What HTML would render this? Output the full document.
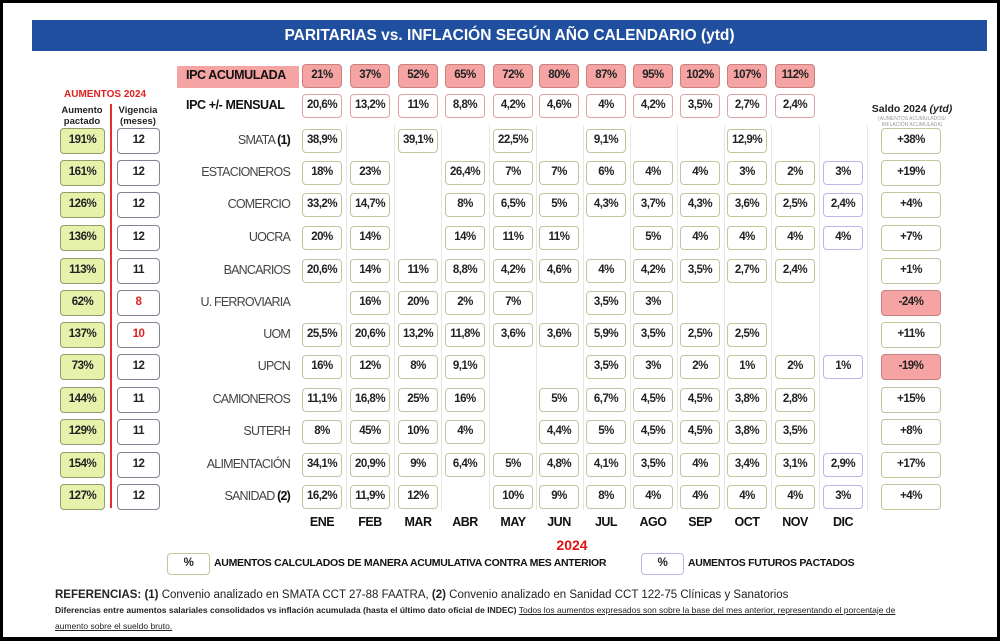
<!DOCTYPE html>
<html><head><meta charset="utf-8"><style>
*{margin:0;padding:0;box-sizing:border-box}
body{width:1000px;height:641px;background:#000;position:relative;overflow:hidden;font-family:"Liberation Sans",sans-serif}
#pg{position:absolute;left:3px;top:3px;width:994px;height:634px;background:#fff}
.a{position:absolute}
.c{position:absolute;width:40px;height:24px;border:1.5px solid #b9c99c;border-radius:4px;background:#fff;font-weight:bold;font-size:11.5px;letter-spacing:-0.5px;color:#222;text-align:center;line-height:21px}
.p{border-color:#bdb5e6}
.r{background:#f5a3a3;border-color:#c98080}
.m{border-color:#dca4a4}
.ag{width:45px;height:26px;line-height:23px;background:#e6f1ab;border-color:#8f9e6a}
.vg{width:43px;height:26px;line-height:23px;border-color:#7d8592}
.sd{width:60px;height:26px;line-height:23px}
.lb{position:absolute;right:710px;font-size:12.5px;letter-spacing:-0.8px;color:#444;width:180px;text-align:right}
.mo{position:absolute;width:40px;text-align:center;font-weight:bold;font-size:12.5px;letter-spacing:-0.5px;color:#111;top:515px}
.vl{position:absolute;width:1px;background:#e6e6e6;top:125px;height:385px}
</style></head><body><div id="pg"></div>
<div class="a" style="left:32px;top:20px;width:955px;height:31px;background:#1f4f9e;color:#fff;font-weight:bold;font-size:15.5px;text-align:center;line-height:31px">PARITARIAS vs. INFLACIÓN SEGÚN AÑO CALENDARIO (ytd)</div>

<div class="a" style="left:177px;top:66px;width:122px;height:22px;background:#f5a3a3"></div>
<div class="a" style="left:186px;top:68px;font-weight:bold;font-size:12.5px;letter-spacing:-0.4px;color:#111">IPC ACUMULADA</div>
<div class="a" style="left:186px;top:98px;font-weight:bold;font-size:12.5px;letter-spacing:-0.4px;color:#111">IPC +/- MENSUAL</div>
<div class="a" style="left:64px;top:89px;font-weight:bold;font-size:10px;color:#e02020">AUMENTOS 2024</div>
<div class="a" style="left:58px;top:105px;width:48px;text-align:center;font-weight:bold;font-size:9.5px;line-height:11px;color:#222">Aumento pactado</div>
<div class="a" style="left:114px;top:105px;width:48px;text-align:center;font-weight:bold;font-size:9.5px;line-height:11px;color:#222">Vigencia (meses)</div>
<div class="a" style="left:110px;top:104px;width:1.5px;height:404px;background:#e03030"></div>
<div class="a" style="left:862px;top:103px;width:100px;text-align:center;font-weight:bold;font-size:10.5px;color:#222">Saldo 2024 <i>(ytd)</i></div>
<div class="a" style="left:862px;top:116px;width:100px;text-align:center;font-size:5px;line-height:6px;color:#999">(AUMENTOS ACUMULADOS/<br>INFLACIÓN ACUMULADA)</div>

<div class="vl" style="left:346px"></div><div class="vl" style="left:394px"></div><div class="vl" style="left:441px"></div><div class="vl" style="left:489px"></div><div class="vl" style="left:536px"></div><div class="vl" style="left:583px"></div><div class="vl" style="left:630px"></div><div class="vl" style="left:677px"></div><div class="vl" style="left:724px"></div><div class="vl" style="left:771px"></div><div class="vl" style="left:819px"></div><div class="vl" style="left:867px"></div>

<div class="c r" style="left:302px;top:64px">21%</div><div class="c r" style="left:350px;top:64px">37%</div><div class="c r" style="left:398px;top:64px">52%</div><div class="c r" style="left:445px;top:64px">65%</div><div class="c r" style="left:493px;top:64px">72%</div><div class="c r" style="left:539px;top:64px">80%</div><div class="c r" style="left:586px;top:64px">87%</div><div class="c r" style="left:633px;top:64px">95%</div><div class="c r" style="left:680px;top:64px">102%</div><div class="c r" style="left:727px;top:64px">107%</div><div class="c r" style="left:775px;top:64px">112%</div>
<div class="c m" style="left:302px;top:94px">20,6%</div><div class="c m" style="left:350px;top:94px">13,2%</div><div class="c m" style="left:398px;top:94px">11%</div><div class="c m" style="left:445px;top:94px">8,8%</div><div class="c m" style="left:493px;top:94px">4,2%</div><div class="c m" style="left:539px;top:94px">4,6%</div><div class="c m" style="left:586px;top:94px">4%</div><div class="c m" style="left:633px;top:94px">4,2%</div><div class="c m" style="left:680px;top:94px">3,5%</div><div class="c m" style="left:727px;top:94px">2,7%</div><div class="c m" style="left:775px;top:94px">2,4%</div>

<div class="lb" style="top:133px">SMATA <b style="color:#111">(1)</b></div>
<div class="c ag" style="left:60px;top:128px">191%</div><div class="c vg" style="left:117px;top:128px">12</div>
<div class="c" style="left:302px;top:129px">38,9%</div><div class="c" style="left:398px;top:129px">39,1%</div><div class="c" style="left:493px;top:129px">22,5%</div><div class="c" style="left:586px;top:129px">9,1%</div><div class="c" style="left:727px;top:129px">12,9%</div>
<div class="c sd" style="left:881px;top:128px">+38%</div>

<div class="lb" style="top:165px">ESTACIONEROS</div>
<div class="c ag" style="left:60px;top:160px">161%</div><div class="c vg" style="left:117px;top:160px">12</div>
<div class="c" style="left:302px;top:161px">18%</div><div class="c" style="left:350px;top:161px">23%</div><div class="c" style="left:445px;top:161px">26,4%</div><div class="c" style="left:493px;top:161px">7%</div><div class="c" style="left:539px;top:161px">7%</div><div class="c" style="left:586px;top:161px">6%</div><div class="c" style="left:633px;top:161px">4%</div><div class="c" style="left:680px;top:161px">4%</div><div class="c" style="left:727px;top:161px">3%</div><div class="c" style="left:775px;top:161px">2%</div><div class="c p" style="left:823px;top:161px">3%</div>
<div class="c sd" style="left:881px;top:160px">+19%</div>

<div class="lb" style="top:197px">COMERCIO</div>
<div class="c ag" style="left:60px;top:192px">126%</div><div class="c vg" style="left:117px;top:192px">12</div>
<div class="c" style="left:302px;top:193px">33,2%</div><div class="c" style="left:350px;top:193px">14,7%</div><div class="c" style="left:445px;top:193px">8%</div><div class="c" style="left:493px;top:193px">6,5%</div><div class="c" style="left:539px;top:193px">5%</div><div class="c" style="left:586px;top:193px">4,3%</div><div class="c" style="left:633px;top:193px">3,7%</div><div class="c" style="left:680px;top:193px">4,3%</div><div class="c" style="left:727px;top:193px">3,6%</div><div class="c" style="left:775px;top:193px">2,5%</div><div class="c p" style="left:823px;top:193px">2,4%</div>
<div class="c sd" style="left:881px;top:192px">+4%</div>

<div class="lb" style="top:230px">UOCRA</div>
<div class="c ag" style="left:60px;top:225px">136%</div><div class="c vg" style="left:117px;top:225px">12</div>
<div class="c" style="left:302px;top:226px">20%</div><div class="c" style="left:350px;top:226px">14%</div><div class="c" style="left:445px;top:226px">14%</div><div class="c" style="left:493px;top:226px">11%</div><div class="c" style="left:539px;top:226px">11%</div><div class="c" style="left:633px;top:226px">5%</div><div class="c" style="left:680px;top:226px">4%</div><div class="c" style="left:727px;top:226px">4%</div><div class="c" style="left:775px;top:226px">4%</div><div class="c p" style="left:823px;top:226px">4%</div>
<div class="c sd" style="left:881px;top:225px">+7%</div>

<div class="lb" style="top:263px">BANCARIOS</div>
<div class="c ag" style="left:60px;top:258px">113%</div><div class="c vg" style="left:117px;top:258px">11</div>
<div class="c" style="left:302px;top:259px">20,6%</div><div class="c" style="left:350px;top:259px">14%</div><div class="c" style="left:398px;top:259px">11%</div><div class="c" style="left:445px;top:259px">8,8%</div><div class="c" style="left:493px;top:259px">4,2%</div><div class="c" style="left:539px;top:259px">4,6%</div><div class="c" style="left:586px;top:259px">4%</div><div class="c" style="left:633px;top:259px">4,2%</div><div class="c" style="left:680px;top:259px">3,5%</div><div class="c" style="left:727px;top:259px">2,7%</div><div class="c" style="left:775px;top:259px">2,4%</div>
<div class="c sd" style="left:881px;top:258px">+1%</div>

<div class="lb" style="top:295px">U. FERROVIARIA</div>
<div class="c ag" style="left:60px;top:290px">62%</div><div class="c vg" style="left:117px;top:290px;color:#e02020">8</div>
<div class="c" style="left:350px;top:291px">16%</div><div class="c" style="left:398px;top:291px">20%</div><div class="c" style="left:445px;top:291px">2%</div><div class="c" style="left:493px;top:291px">7%</div><div class="c" style="left:586px;top:291px">3,5%</div><div class="c" style="left:633px;top:291px">3%</div>
<div class="c sd r" style="left:881px;top:290px">-24%</div>

<div class="lb" style="top:327px">UOM</div>
<div class="c ag" style="left:60px;top:322px">137%</div><div class="c vg" style="left:117px;top:322px;color:#e02020">10</div>
<div class="c" style="left:302px;top:323px">25,5%</div><div class="c" style="left:350px;top:323px">20,6%</div><div class="c" style="left:398px;top:323px">13,2%</div><div class="c" style="left:445px;top:323px">11,8%</div><div class="c" style="left:493px;top:323px">3,6%</div><div class="c" style="left:539px;top:323px">3,6%</div><div class="c" style="left:586px;top:323px">5,9%</div><div class="c" style="left:633px;top:323px">3,5%</div><div class="c" style="left:680px;top:323px">2,5%</div><div class="c" style="left:727px;top:323px">2,5%</div>
<div class="c sd" style="left:881px;top:322px">+11%</div>

<div class="lb" style="top:359px">UPCN</div>
<div class="c ag" style="left:60px;top:354px">73%</div><div class="c vg" style="left:117px;top:354px">12</div>
<div class="c" style="left:302px;top:355px">16%</div><div class="c" style="left:350px;top:355px">12%</div><div class="c" style="left:398px;top:355px">8%</div><div class="c" style="left:445px;top:355px">9,1%</div><div class="c" style="left:586px;top:355px">3,5%</div><div class="c" style="left:633px;top:355px">3%</div><div class="c" style="left:680px;top:355px">2%</div><div class="c" style="left:727px;top:355px">1%</div><div class="c" style="left:775px;top:355px">2%</div><div class="c p" style="left:823px;top:355px">1%</div>
<div class="c sd r" style="left:881px;top:354px">-19%</div>

<div class="lb" style="top:392px">CAMIONEROS</div>
<div class="c ag" style="left:60px;top:387px">144%</div><div class="c vg" style="left:117px;top:387px">11</div>
<div class="c" style="left:302px;top:388px">11,1%</div><div class="c" style="left:350px;top:388px">16,8%</div><div class="c" style="left:398px;top:388px">25%</div><div class="c" style="left:445px;top:388px">16%</div><div class="c" style="left:539px;top:388px">5%</div><div class="c" style="left:586px;top:388px">6,7%</div><div class="c" style="left:633px;top:388px">4,5%</div><div class="c" style="left:680px;top:388px">4,5%</div><div class="c" style="left:727px;top:388px">3,8%</div><div class="c" style="left:775px;top:388px">2,8%</div>
<div class="c sd" style="left:881px;top:387px">+15%</div>

<div class="lb" style="top:424px">SUTERH</div>
<div class="c ag" style="left:60px;top:419px">129%</div><div class="c vg" style="left:117px;top:419px">11</div>
<div class="c" style="left:302px;top:420px">8%</div><div class="c" style="left:350px;top:420px">45%</div><div class="c" style="left:398px;top:420px">10%</div><div class="c" style="left:445px;top:420px">4%</div><div class="c" style="left:539px;top:420px">4,4%</div><div class="c" style="left:586px;top:420px">5%</div><div class="c" style="left:633px;top:420px">4,5%</div><div class="c" style="left:680px;top:420px">4,5%</div><div class="c" style="left:727px;top:420px">3,8%</div><div class="c" style="left:775px;top:420px">3,5%</div>
<div class="c sd" style="left:881px;top:419px">+8%</div>

<div class="lb" style="top:457px">ALIMENTACIÓN</div>
<div class="c ag" style="left:60px;top:452px">154%</div><div class="c vg" style="left:117px;top:452px">12</div>
<div class="c" style="left:302px;top:453px">34,1%</div><div class="c" style="left:350px;top:453px">20,9%</div><div class="c" style="left:398px;top:453px">9%</div><div class="c" style="left:445px;top:453px">6,4%</div><div class="c" style="left:493px;top:453px">5%</div><div class="c" style="left:539px;top:453px">4,8%</div><div class="c" style="left:586px;top:453px">4,1%</div><div class="c" style="left:633px;top:453px">3,5%</div><div class="c" style="left:680px;top:453px">4%</div><div class="c" style="left:727px;top:453px">3,4%</div><div class="c" style="left:775px;top:453px">3,1%</div><div class="c p" style="left:823px;top:453px">2,9%</div>
<div class="c sd" style="left:881px;top:452px">+17%</div>

<div class="lb" style="top:489px">SANIDAD <b style="color:#111">(2)</b></div>
<div class="c ag" style="left:60px;top:484px">127%</div><div class="c vg" style="left:117px;top:484px">12</div>
<div class="c" style="left:302px;top:485px">16,2%</div><div class="c" style="left:350px;top:485px">11,9%</div><div class="c" style="left:398px;top:485px">12%</div><div class="c" style="left:493px;top:485px">10%</div><div class="c" style="left:539px;top:485px">9%</div><div class="c" style="left:586px;top:485px">8%</div><div class="c" style="left:633px;top:485px">4%</div><div class="c" style="left:680px;top:485px">4%</div><div class="c" style="left:727px;top:485px">4%</div><div class="c" style="left:775px;top:485px">4%</div><div class="c p" style="left:823px;top:485px">3%</div>
<div class="c sd" style="left:881px;top:484px">+4%</div>

<div class="mo" style="left:302px">ENE</div><div class="mo" style="left:350px">FEB</div><div class="mo" style="left:398px">MAR</div><div class="mo" style="left:445px">ABR</div><div class="mo" style="left:493px">MAY</div><div class="mo" style="left:539px">JUN</div><div class="mo" style="left:586px">JUL</div><div class="mo" style="left:633px">AGO</div><div class="mo" style="left:680px">SEP</div><div class="mo" style="left:727px">OCT</div><div class="mo" style="left:775px">NOV</div><div class="mo" style="left:823px">DIC</div>

<div class="a" style="left:552px;top:537px;width:40px;text-align:center;font-weight:bold;font-size:14px;color:#e01010">2024</div>
<div class="c" style="left:167px;top:553px;width:43px;height:22px;line-height:19px">%</div>
<div class="a" style="left:214px;top:557px;font-weight:bold;font-size:10.5px;letter-spacing:-0.3px;color:#111;white-space:nowrap">AUMENTOS CALCULADOS DE MANERA ACUMULATIVA CONTRA MES ANTERIOR</div>
<div class="c p" style="left:641px;top:553px;width:43px;height:22px;line-height:19px">%</div>
<div class="a" style="left:688px;top:557px;font-weight:bold;font-size:10.5px;letter-spacing:-0.3px;color:#111;white-space:nowrap">AUMENTOS FUTUROS PACTADOS</div>

<div class="a" style="left:55px;top:589px;font-size:11.5px;color:#222;white-space:nowrap"><b>REFERENCIAS: (1)</b> Convenio analizado en SMATA CCT 27-88 FAATRA, <b>(2)</b> Convenio analizado en Sanidad CCT 122-75 Clínicas y Sanatorios</div>
<div class="a" style="left:55px;top:605px;font-size:8.5px;color:#222;white-space:nowrap"><b>Diferencias entre aumentos salariales consolidados vs inflación acumulada (hasta el último dato oficial de INDEC)</b> <u>Todos los aumentos expresados son sobre la base del mes anterior, representando el porcentaje de</u></div>
<div class="a" style="left:55px;top:621px;font-size:8.5px;color:#222"><u>aumento sobre el sueldo bruto.</u></div>
</body></html>
